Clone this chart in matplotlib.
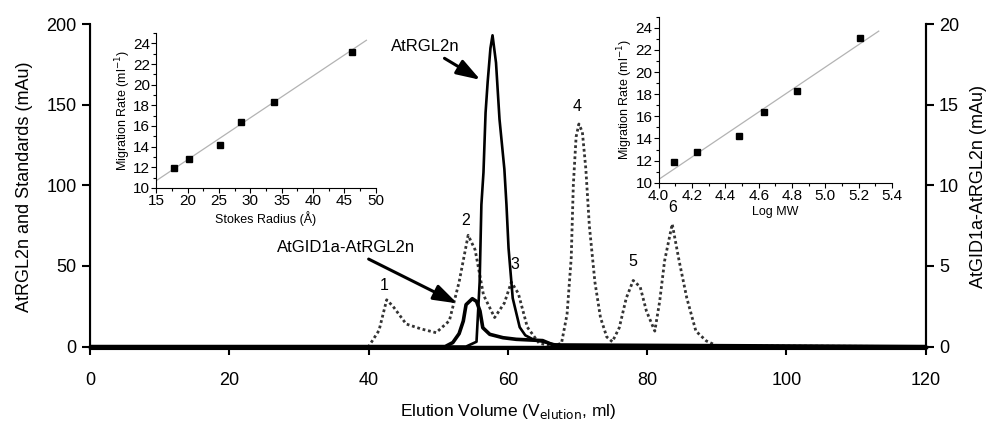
import numpy as np
import matplotlib.pyplot as plt
from matplotlib.ticker import MultipleLocator

plt.rcParams['font.family'] = ['Liberation Sans', 'DejaVu Sans']

# standards (left axis, mAu)
std_x = [0, 40, 41.5, 42.6, 43.5, 45.4, 47.5, 49.7, 51.6, 53.0, 54.3, 55.3, 56.5, 58.1, 59.5, 60.5,
         61.5, 62.8, 64.5, 66.5, 67.7, 68.5, 69.1, 69.4, 69.8, 70.2, 70.7, 71.2, 71.7, 72.5, 73.3,
         74.2, 75.0, 76.0, 77.0, 78.0, 79.0, 79.9, 81.1, 81.8, 82.5, 83.6, 84.6, 85.7, 87.0, 88.5,
         90, 120]
std_y = [0, 0, 10, 29, 25, 14, 11, 8.6, 16, 40, 69, 60, 32, 18, 27, 40,
         33, 12, 2, 0.5, 2, 20, 55, 100, 130, 138, 133, 110, 75, 40, 18,
         6, 3, 11.7, 30, 41, 37, 22, 9.6, 28, 53, 76, 53, 30, 9.6, 3.5,
         0.5, 0]

# AtRGL2n (left axis, mAu)
rgl_x = [0, 54, 55.5, 55.95, 56.2, 56.5, 56.8, 57.1, 57.5, 57.8, 58.3, 58.8, 59.5, 59.8, 60.1,
         60.7, 61.7, 62.5, 63.6, 66.0, 68.0, 120]
rgl_y = [0, 0, 3, 40, 88, 108, 145, 164, 185, 193, 176, 141, 110, 88, 61,
         30, 12, 7, 4.5, 2, 0.3, 0]

# AtGID1a-AtRGL2n (right axis, mAu)
gid_x = [0, 51, 52.1, 53.0, 53.6, 54.0, 54.9, 55.5, 56.0, 56.4, 57.4, 59.3, 61.2, 65.0, 66.5, 120]
gid_y = [0, 0, 0.25, 0.8, 1.58, 2.6, 2.97, 2.8, 2.2, 1.17, 0.76, 0.55, 0.45, 0.37, 0.1, 0]

peak_labels = ['1', '2', '3', '4', '5', '6']
peak_lx = [42.3, 53.9, 61.0, 69.9, 78.0, 83.6]
peak_ly = [38, 78, 51, 149, 53, 86]

# calibration insets
stokes_r = [17.9, 20.2, 25.1, 28.5, 33.7, 46.2]
mig_rate = [11.9, 12.8, 14.2, 16.4, 18.3, 23.2]
log_mw = [4.09, 4.23, 4.48, 4.63, 4.83, 5.21]
mig_rate2 = [11.9, 12.75, 14.2, 16.4, 18.3, 23.1]
fit1_x = [15, 48.5]
fit1_y = [10.7, 24.3]
fit2_x = [4.0, 5.32]
fit2_y = [10.3, 23.7]

fig = plt.figure(figsize=(9.89, 4.29), dpi=100)
ax = fig.add_axes([0.091, 0.1865, 0.845, 0.7575])

ax.plot(std_x, std_y, color='0.2', ls=(0, (1, 1)), lw=2.0)
ax.plot(rgl_x, rgl_y, color='black', lw=1.9)
ax.set_xlim(0, 120)
ax.set_ylim(-1.5, 200)
ax.set_xticks(range(0, 121, 20))
ax.set_yticks(range(0, 201, 50))
ax.spines['top'].set_visible(False)
ax.spines['bottom'].set_position(('data', 0))
ax.spines['bottom'].set_linewidth(2.5)
for s in ['left', 'right']:
    ax.spines[s].set_linewidth(1.5)
ax.tick_params(direction='out', length=6, width=1.5, labelsize=13)
ax.tick_params(axis='x', pad=12)
ax.set_ylabel('AtRGL2n and Standards (mAu)', fontsize=13, labelpad=10)
ax.set_xlabel('Elution Volume (V$_{\\rm elution}$, ml)', fontsize=12.5, labelpad=10)

ax2 = ax.twinx()
ax2.plot(gid_x, gid_y, color='black', lw=2.6)
ax2.set_ylim(-0.15, 20)
ax2.set_yticks(range(0, 21, 5))
ax2.spines['top'].set_visible(False)
ax2.spines['right'].set_linewidth(1.5)
ax2.tick_params(direction='out', length=6, width=1.5, labelsize=13)
ax2.set_ylabel('AtGID1a-AtRGL2n (mAu)', fontsize=13, labelpad=8)

for t, x, y in zip(peak_labels, peak_lx, peak_ly):
    ax.text(x, y, t, ha='center', va='center', fontsize=11.5)

ax.annotate('AtRGL2n', xy=(56.4, 164.5), xytext=(48.1, 186), ha='center', va='center',
            fontsize=12, arrowprops=dict(arrowstyle='-|>,head_length=0.9,head_width=0.3',
                                         color='black', lw=2.2, mutation_scale=16))
ax.annotate('AtGID1a-AtRGL2n', xy=(53.1, 26), xytext=(36.7, 61.4), ha='center', va='center',
            fontsize=12, arrowprops=dict(arrowstyle='-|>,head_length=0.9,head_width=0.3',
                                         color='black', lw=2.2, mutation_scale=16))


def inset(rect, xs, ys, fx, fy, xlim, xmaj, xmin, xlabel):
    a = fig.add_axes(rect)
    a.plot(fx, fy, color='0.7', lw=0.9)
    a.plot(xs, ys, 's', color='black', ms=4.5)
    a.set_xlim(*xlim)
    a.set_ylim(10, 25)
    a.set_yticks(range(10, 25, 2))
    a.xaxis.set_major_locator(MultipleLocator(xmaj))
    a.xaxis.set_minor_locator(MultipleLocator(xmin))
    a.yaxis.set_minor_locator(MultipleLocator(1))
    a.spines['top'].set_visible(False)
    a.spines['right'].set_visible(False)
    a.tick_params(which='both', direction='out', width=0.8, labelsize=11, pad=1)
    a.tick_params(which='major', length=3.5)
    a.tick_params(which='minor', length=2)
    a.set_ylabel('Migration Rate (ml$^{-1}$)', fontsize=9, labelpad=0)
    a.set_xlabel(xlabel, fontsize=9, labelpad=2)
    a.patch.set_alpha(0)
    return a


inset([0.158, 0.562, 0.222, 0.361], stokes_r, mig_rate, fit1_x, fit1_y, (15, 50), 5, 2.5,
      'Stokes Radius (Å)')
a2 = inset([0.666, 0.574, 0.236, 0.387], log_mw, mig_rate2, fit2_x, fit2_y, (4.0, 5.4), 0.2, 0.1,
           'Log MW')
a2.xaxis.set_major_formatter(plt.FormatStrFormatter('%.1f'))

fig.savefig('out.png', dpi=100)
